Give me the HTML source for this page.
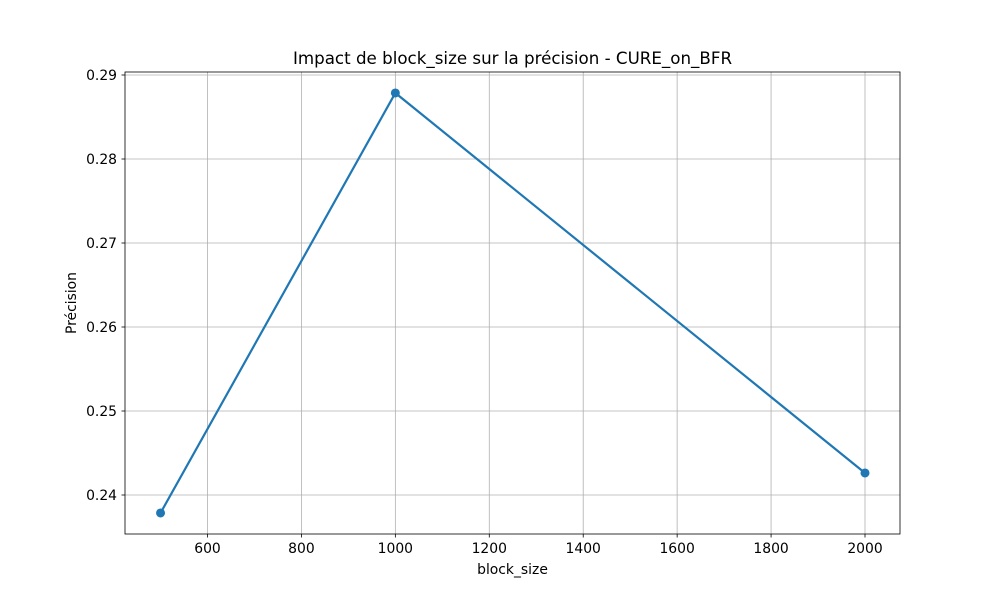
<!DOCTYPE html>
<html><head><meta charset="utf-8"><style>
body{margin:0;background:#fff;font-family:"DejaVu Sans","Liberation Sans",sans-serif}
</style></head><body>
<svg id="chart" width="1000" height="600" xmlns="http://www.w3.org/2000/svg" font-family="DejaVu Sans, Liberation Sans, sans-serif"></svg>
<script>
const categories=[500,1000,2000];
const precision=[0.23786,0.28786,0.24262];
const xTicks=[600,800,1000,1200,1400,1600,1800,2000];
const yTicks=[0.24,0.25,0.26,0.27,0.28,0.29];
const svg=document.getElementById('chart');
const NS='http://www.w3.org/2000/svg';
const L=125,R=900,T=72,B=534;
function xs(v){return 207.5+(v-600)*(865-207.5)/1400;}
function ys(v){return 495-(v-0.24)*8400;}
function mk(tag,attrs,text){const e=document.createElementNS(NS,tag);for(const k in attrs)e.setAttribute(k,attrs[k]);if(text!==undefined)e.textContent=text;svg.appendChild(e);return e;}
xTicks.forEach(t=>{const x=xs(t);
const g=mk('line',{x1:x,x2:x,y1:T,y2:B,stroke:'#b0b0b0','stroke-width':0.8});

mk('line',{x1:x,x2:x,y1:B,y2:B+3.5,stroke:'#000','stroke-width':0.8});
const l=mk('text',{x:x,y:B+19,'font-size':13.9,'text-anchor':'middle'},t);
});
yTicks.forEach(t=>{const y=ys(t);
const g=mk('line',{x1:L,x2:R,y1:y,y2:y,stroke:'#b0b0b0','stroke-width':0.8});

mk('line',{x1:L-3.5,x2:L,y1:y,y2:y,stroke:'#000','stroke-width':0.8});
const l=mk('text',{x:L-8,y:y+5,'font-size':13.9,'text-anchor':'end'},t.toFixed(2));
});
const pts=categories.map((c,i)=>xs(c)+','+ys(precision[i])).join(' ');
const line=mk('polyline',{points:pts,fill:'none',stroke:'#1f77b4','stroke-width':2.2});

categories.forEach((c,i)=>{const p=mk('circle',{cx:xs(c),cy:ys(precision[i]),r:4.5,fill:'#1f77b4'});
});
const fr=mk('rect',{x:L,y:T,width:R-L,height:B-T,fill:'none',stroke:'#000','stroke-width':0.8});

const ti=mk('text',{x:512.5,y:64,'font-size':16.7,'text-anchor':'middle'},'Impact de block_size sur la précision - CURE_on_BFR');

const xl=mk('text',{x:512.5,y:574,'font-size':13.9,'text-anchor':'middle'},'block_size');

const yl=mk('text',{x:76,y:303,'font-size':13.9,'text-anchor':'middle',transform:'rotate(-90 76 303)'},'Précision');

</script>
</body></html>
